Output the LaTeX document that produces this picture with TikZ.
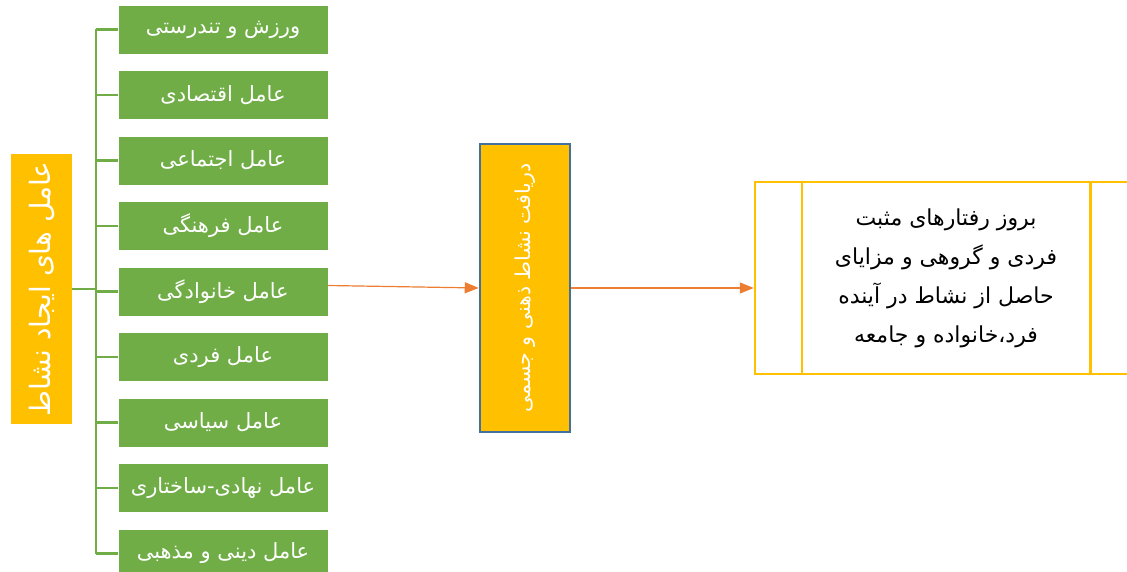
\documentclass[tikz,border=0pt]{standalone}
\usepackage{fontspec}
\usepackage{tikz}
\usetikzlibrary{positioning,arrows.meta}
\newfontfamily\arabicfont[Script=Arabic]{DejaVu Sans}
\TeXXeTstate=1
\newcommand{\rtltext}[1]{\beginR #1\endR}
\definecolor{factorgreen}{HTML}{70AD47}
\definecolor{goldbox}{HTML}{FFC000}
\definecolor{edgeblue}{HTML}{41719C}
\definecolor{arroworange}{HTML}{ED7D31}

\begin{document}
\begin{tikzpicture}[
    factor/.style={fill=factorgreen, draw=white, line width=0.6pt, minimum width=210pt,
      minimum height=49pt, inner sep=0pt, outer sep=0pt, text=white,
      font=\arabicfont\fontsize{21}{25}\selectfont},
    bus/.style={draw=factorgreen, line width=2.5pt},
    flow/.style={draw=arroworange, line width=1.2pt, -{Triangle[length=14pt,width=11pt]}},
    vtitle/.style={fill=goldbox, text=white, rotate=90, inner sep=0pt}]
  \useasboundingbox (0,0) rectangle (1127pt,571pt);
  \clip (0,0) rectangle (1127pt,571pt);

  \node[factor] (b1) at (223pt,541.5pt) {\rtltext{ورزش و تندرستی}};
  \node[factor, below=16.5pt of b1] (b2) {\rtltext{عامل اقتصادی}};
  \node[factor, below=16.5pt of b2] (b3) {\rtltext{عامل اجتماعی}};
  \node[factor, below=16.5pt of b3] (b4) {\rtltext{عامل فرهنگی}};
  \node[factor, below=16.5pt of b4] (b5) {\rtltext{عامل خانوادگی}};
  \node[factor, below=16.5pt of b5] (b6) {\rtltext{عامل فردی}};
  \node[factor, below=16.5pt of b6] (b7) {\rtltext{عامل سیاسی}};
  \node[factor, below=16.5pt of b7] (b8) {\rtltext{عامل نهادی-ساختاری}};
  \node[factor, below=16.5pt of b8] (b9) {\rtltext{عامل دینی و مذهبی}};

  \node[vtitle, minimum width=270pt, minimum height=61pt,
    font=\arabicfont\fontsize{28}{32}\selectfont] (lft) at (41.5pt,282pt)
    {\rtltext{عامل های ایجاد نشاط}};
  \node[vtitle, draw=edgeblue, line width=2.5pt, minimum width=288pt, minimum height=90pt,
    font=\arabicfont\fontsize{20.5}{24}\selectfont] (mid) at (525pt,283pt)
    {\rtltext{دریافت نشاط ذهنی و جسمی}};
  \node[draw=goldbox, line width=2.5pt, minimum width=382pt, minimum height=192pt, align=center,
    font=\arabicfont\fontsize{22}{39}\selectfont] (rgt) at (946pt,293pt)
    {\rtltext{بروز رفتارهای مثبت}\\ \rtltext{فردی و گروهی و مزایای}\\
     \rtltext{حاصل از نشاط در آینده}\\ \rtltext{فرد،خانواده و جامعه}};
  \draw[goldbox, line width=2.5pt] ([xshift=48pt]rgt.north west) -- ([xshift=48pt]rgt.south west);
  \draw[goldbox, line width=2.5pt] ([xshift=-48pt]rgt.north east) -- ([xshift=-48pt]rgt.south east);

  \coordinate (bt) at (96pt,541.5pt);
  \coordinate (bb) at (96pt,17.5pt);
  \draw[bus] (bt) -- (bb);
  \foreach \i in {1,...,9}
    \draw[bus] (b\i.west) -- (b\i.west -| bt);
  \draw[bus] (lft.south) -- (lft.south -| bt);

  \draw[flow] ([yshift=6pt]b5.east) -- (mid.north);
  \draw[flow] (mid.south) -- (mid.south -| rgt.west);
\end{tikzpicture}
\end{document}
